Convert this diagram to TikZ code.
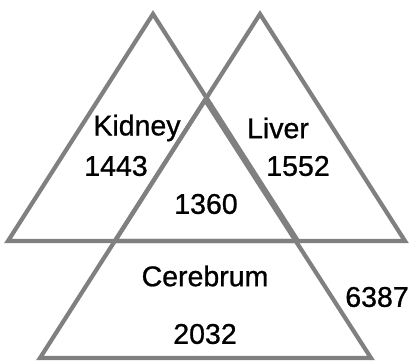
\documentclass[tikz,border=0pt]{standalone}
\usepackage{fontspec}
\setmainfont{Liberation Sans}
\newfontfamily\labfont[FakeBold=0.9]{Liberation Sans}
\usepackage{tikz}
\definecolor{edgegray}{RGB}{128,128,128}

\begin{document}
\begin{tikzpicture}[x=1pt,y=-1pt,
    tri/.style={draw=edgegray,line width=4.2pt,line join=miter},
    lab/.style={font=\labfont\fontsize{28.5}{28.5}\selectfont,inner sep=0pt}]
    \useasboundingbox (0,0) rectangle (417,362);
    % the three triangles
    \draw[tri] (153,14) -- (298,241) -- (8,241) -- cycle;
    \draw[tri] (260,14) -- (405,241) -- (115,241) -- cycle;
    \draw[tri] (205,100) -- (371,358) -- (40,358) -- cycle;
    % labels and counts
    \node[lab] (kidney) at (137,128) {Kidney};
    \node[lab] (liver) at (278,128) {Liver};
    \node[lab] (nkidney) at (116,166) {1443};
    \node[lab] (nliver) at (298,166) {1552};
    \node[lab] (nall) at (206,204) {1360};
    \node[lab] (cerebrum) at (205,276) {Cerebrum};
    \node[lab] (ncerebrum) at (205,334) {2032};
    \node[lab] (nrest) at (377,297) {6387};
  \end{tikzpicture}
\end{document}
